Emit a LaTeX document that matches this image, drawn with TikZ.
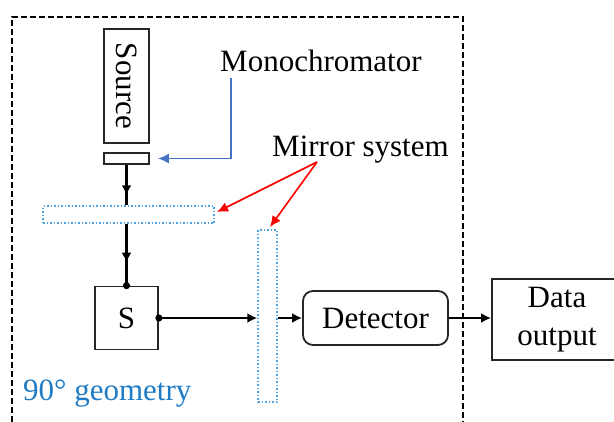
\documentclass[tikz,border=0pt]{standalone}
\usepackage{fontspec}
\setmainfont{Liberation Serif}
\usetikzlibrary{arrows.meta,calc}
\definecolor{mirblue}{HTML}{4FA3E0}
\definecolor{lblblue}{HTML}{4472C4}
\definecolor{geoblue}{HTML}{1F7BC4}
\tikzset{
  box/.style={draw=black!85,line width=1.8pt,inner sep=0pt,font=\fontsize{31}{34}\selectfont},
  mirror/.style={draw=mirblue,line width=1.5pt,dotted,inner sep=0pt},
  lbl/.style={inner sep=0pt,font=\fontsize{31}{34}\selectfont},
  flow/.style={line width=2.2pt,-{Latex[length=10pt,width=10pt]}},
  plain/.style={line width=2.2pt},
  redarr/.style={red,line width=1.6pt,-{Latex[length=11pt,width=10pt]}},
  bluearr/.style={lblblue,line width=1.6pt,-{Latex[length=11pt,width=10pt]}},
}
\begin{document}
\begin{tikzpicture}[x=1pt,y=-1pt]
\useasboundingbox (0,0) rectangle (614,421);
\clip (0,0) rectangle (614,421);
% frame
\draw[line width=2.2pt,dash pattern=on 6pt off 3pt] (12,440) -- (12,17) -- (463,17) -- (463,440);
% nodes
\node[box,rotate=-90,minimum width=114pt,minimum height=45pt] (src) at (126.5,86) {Source};
\node[box,minimum width=45pt,minimum height=11pt] (mono) at (126.5,158.5) {};
\node[mirror,minimum width=171pt,minimum height=17pt] (hm) at (128.5,214.5) {};
\node[mirror,minimum width=19pt,minimum height=172pt] (vm) at (267.5,316) {};
\node[box,minimum width=63pt,minimum height=63pt] (S) at (126.5,318) {S};
\node[box,rounded corners=10pt,minimum width=145pt,minimum height=54pt] (det) at (375.5,318) {Detector};
\node[box,minimum width=130pt,minimum height=81pt,align=center,font=\fontsize{31}{38}\selectfont] (data) at (557,319.5) {Data\\output};
% labels
\node[lbl,anchor=base west] (monolbl) at (220,71) {Monochromator};
\node[lbl,anchor=base west] (mirlbl) at (272,156) {Mirror system};
\node[lbl,anchor=base west,text=geoblue] (geo) at (23,400) {90° geometry};
% flow
\draw[plain] (mono.south) -- (mono.south |- hm.north);
\draw[flow,shorten >=10pt] (mono.south) -- (mono.south |- hm.north);
\draw[plain] (S.north |- hm.south) -- (S.north);
\draw[flow,shorten >=23pt] (S.north |- hm.south) -- (S.north);
\fill (S.north) circle (3.6pt);
\draw[flow] (S.east) -- (S.east -| vm.west);
\fill (S.east) circle (3.6pt);
\draw[flow] (vm.east |- det.west) -- (det.west);
\draw[flow] (det.east) -- (det.east -| data.west);
% callouts
\coordinate (mstart) at (231,78);
\draw[bluearr,shorten >=8pt] (mstart) |- (mono.east);
\coordinate (rstart) at (317,162);
\coordinate (rtip1) at (217,212);
\coordinate (rtip2) at (270,227);
\draw[redarr] (rstart) -- (rtip1);
\draw[redarr] (rstart) -- (rtip2);
\end{tikzpicture}
\end{document}
